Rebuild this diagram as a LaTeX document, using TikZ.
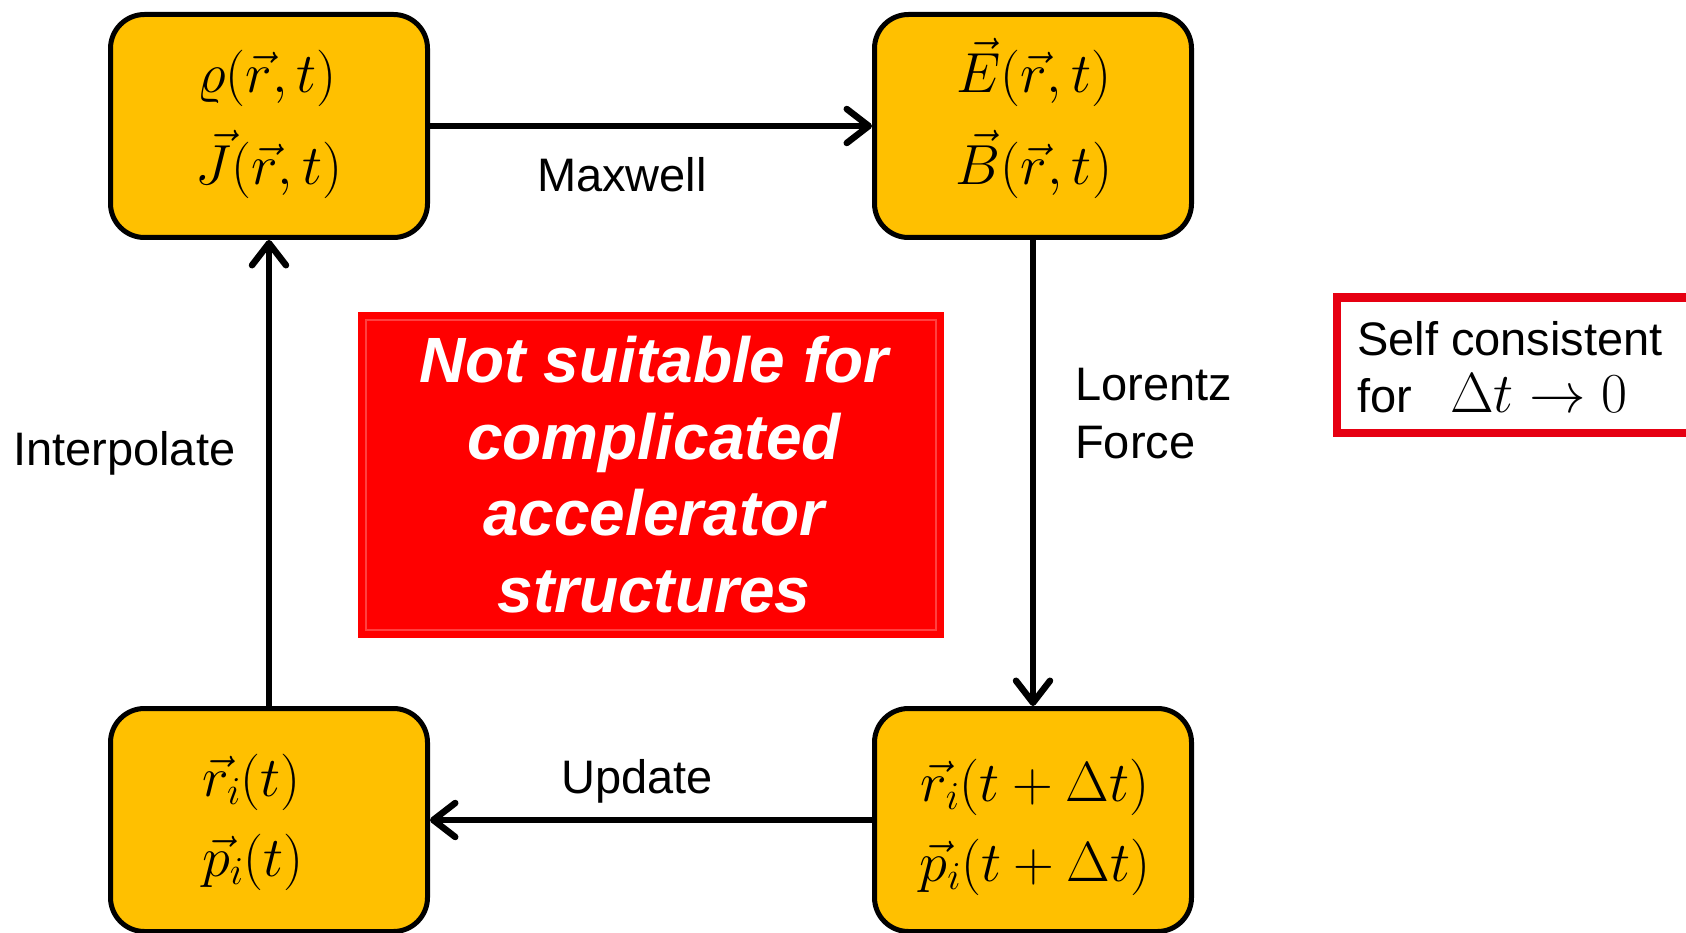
\RequirePackage{fix-cm}
\documentclass[tikz,border=0pt]{standalone}
\usepackage[no-math]{fontspec}
\newfontfamily\arial{Liberation Sans}
\usetikzlibrary{arrows.meta}
\definecolor{boxfill}{RGB}{255,192,0}
\definecolor{warnred}{RGB}{255,0,0}
\definecolor{crimson}{RGB}{230,0,18}
\tikzset{
  stage/.style={draw=black, line width=5pt, fill=boxfill, rounded corners=34pt,
    minimum width=317pt, minimum height=223pt, inner sep=0pt},
  mtxt/.style={font=\fontsize{56.5}{62}\selectfont, inner sep=0pt, anchor=base},
  lbl/.style={font=\arial\fontsize{47}{56}\selectfont, inner sep=0pt, anchor=base},
  warntxt/.style={font=\arial\bfseries\itshape\fontsize{64}{77}\selectfont, text=white, inner sep=0pt, anchor=base},
  flow/.style={line width=6.5pt, -{Straight Barb[length=22pt,width=34pt,round]}},
}
\begin{document}
\begin{tikzpicture}[x=1pt,y=-1pt]
\useasboundingbox (0,0) rectangle (1686,933);
% stage boxes
\node[stage] (tl) at (269,126) {};
\node[stage] (tr) at (1033,126) {};
\node[stage] (bl) at (269,820) {};
\node[stage] (br) at (1033,820) {};
% box texts
\node[mtxt] (tl1) at (267,93) {$\varrho(\vec r,t)$};
\node[mtxt] (tl2) at (269,185) {$\vec J(\vec r,t)$};
\node[mtxt] (tr1) at (1034,93) {$\vec E(\vec r,t)$};
\node[mtxt] (tr2) at (1034,185) {$\vec B(\vec r,t)$};
\node[mtxt, anchor=base west] (bl1) at (202,796) {$\vec r_i(t)$};
\node[mtxt, anchor=base west] (bl2) at (202,876) {$\vec p_i(t)$};
\node[mtxt] (br1) at (1035,801) {$\vec r_i(t+\Delta t)$};
\node[mtxt] (br2) at (1035,881) {$\vec p_i(t+\Delta t)$};
% connectors
\draw[flow] (tl.east) -- (tr.west);
\draw[flow] (tr.south) -- (br.north);
\draw[flow] (br.west) -- (bl.east);
\draw[flow] (bl.north) -- (tl.south);
% labels
\node[lbl] (maxwell) at (622,192) {Maxwell};
\node[lbl, anchor=base west] (lor1) at (1075,400) {Lorentz};
\node[lbl, anchor=base west] (lor2) at (1075,458) {Force};
\node[lbl, anchor=base west] (interp) at (13,465) {Interpolate};
\node[lbl] (update) at (637,793) {Update};
% warning box
\node[fill=warnred, minimum width=586pt, minimum height=326pt, inner sep=0pt] (warn) at (651,475) {};
\draw[red!75!white, line width=1.5pt] ([shift={(8,8)}]warn.north west) rectangle ([shift={(-8,-8)}]warn.south east);
\node[warntxt] (w1) at (654,382) {Not suitable for};
\node[warntxt] (w2) at (654,459) {complicated};
\node[warntxt] (w3) at (654,535) {accelerator};
\node[warntxt] (w4) at (654,612) {structures};
% self consistent box
\draw[crimson, line width=8pt] (1700,297.5) -- (1337,297.5) -- (1337,432.5) -- (1700,432.5);
\node[lbl, anchor=base west] (sc1) at (1357,355) {Self consistent};
\node[lbl, anchor=base west] (sc2) at (1357,412) {for\hspace{38pt}{\fontsize{56.5}{62}\selectfont$\Delta t\to 0$}};
\end{tikzpicture}
\end{document}
